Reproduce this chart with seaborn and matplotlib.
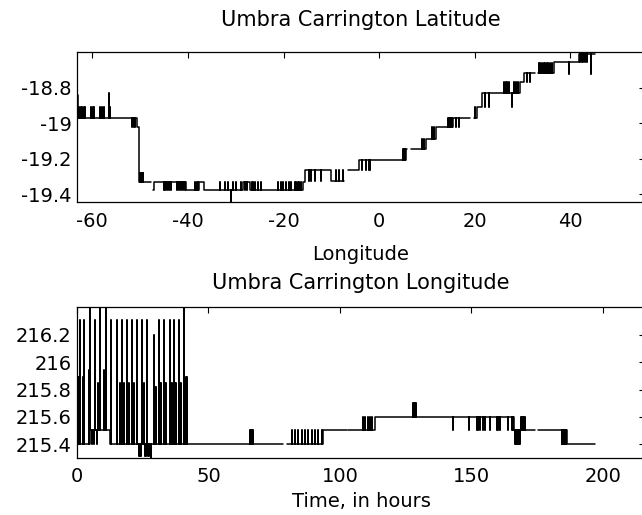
import numpy as np
import pandas as pd
import matplotlib
matplotlib.use("Agg")
import matplotlib.pyplot as plt
import seaborn as sns

# ---------------- Top panel: Umbra Carrington Latitude vs Longitude ----------------
# step breakpoints: value holds from this longitude until the next one (nan = gap)
lat_step_lon = [-63.0, -62.9, -50.6, -50.3, -47.8, -47.2, -47.0, -40.5, -37.6, -36.7,
                -28.5, -27.1, -16.0, -15.5, -10.1, -7.3, -6.6, -4.2, 5.6, 5.9,
                6.6, 9.7, 11.8, 15.5, 19.1, 19.8, 20.5, 21.5, 29.5, 30.2,
                32.5, 33.2, 36.5, 41.7, 45.1]
lat_step_val = [-18.84, -18.97, -19.02, -19.33, np.nan, -19.38, -19.33, -19.38, -19.33, -19.38,
                -19.33, -19.38, -19.33, -19.265, -19.325, np.nan, -19.265, -19.208, -19.148, np.nan,
                -19.148, -19.087, -19.024, -18.968, np.nan, -18.968, -18.908, -18.83, -18.77, -18.717,
                np.nan, -18.717, -18.655, -18.61, -18.61]
# short excursions (spikes) away from the step level: position and tip value
lat_spike_lon = [-62.7, -62.4, -62.1, -61.8, -61.5, -60.3, -59.9, -59.6, -58.3, -58.0,
                 -57.6, -56.5, -56.2, -51.6, -51.3, -51.0, -50.1, -49.9, -49.7, -49.5,
                 -49.3, -45.0, -44.7, -44.3, -43.9, -43.5, -42.2, -41.9, -41.5, -41.1,
                 -40.7, -38.6, -38.2, -37.9, -33.3, -32.3, -31.6, -30.9, -30.6, -29.9,
                 -28.8, -28.0, -27.6, -26.6, -26.3, -26.0, -25.3, -24.7, -21.2, -20.5,
                 -20.1, -19.4, -18.9, -18.4, -17.7, -17.4, -17.0, -16.7, -16.3, -14.6,
                 -14.2, -13.5, -12.2, -9.0, -8.3, -7.6, -3.5, -2.8, -2.1, -1.9,
                 4.9, 5.1, 5.3, 9.0, 9.4, 11.1, 11.5, 14.4, 14.6, 14.8,
                 15.0, 15.2, 16.0, 16.6, 20.1, 22.2, 22.9, 26.2, 26.5, 26.8,
                 27.2, 27.8, 28.3, 28.6, 29.0, 30.9, 31.6, 33.4, 33.7, 34.0,
                 34.4, 34.7, 35.1, 35.4, 35.8, 36.1, 39.6, 42.1, 42.4, 42.7,
                 43.1, 43.5, 44.4]
lat_spike_val = [-18.91, -18.91, -18.91, -18.91, -18.91, -18.91, -18.91, -18.91, -18.91, -18.91,
                 -18.91, -18.83, -18.91, -19.02, -19.02, -19.02, -19.28, -19.28, -19.28, -19.28,
                 -19.28, -19.38, -19.38, -19.38, -19.38, -19.38, -19.38, -19.38, -19.38, -19.38,
                 -19.38, -19.33, -19.33, -19.33, -19.33, -19.33, -19.33, -19.50, -19.33, -19.33,
                 -19.33, -19.38, -19.38, -19.33, -19.33, -19.33, -19.33, -19.33, -19.33, -19.33,
                 -19.33, -19.33, -19.33, -19.33, -19.33, -19.33, -19.33, -19.33, -19.33, -19.325,
                 -19.325, -19.325, -19.325, -19.265, -19.265, -19.265, -19.265, -19.265, -19.265, -19.265,
                 -19.148, -19.148, -19.148, -19.087, -19.087, -19.024, -19.024, -18.968, -18.968, -18.968,
                 -18.968, -18.968, -19.024, -19.024, -18.908, -18.908, -18.908, -18.77, -18.77, -18.77,
                 -18.77, -18.91, -18.77, -18.77, -18.77, -18.77, -18.77, -18.66, -18.66, -18.66,
                 -18.66, -18.66, -18.66, -18.66, -18.66, -18.66, -18.72, -18.655, -18.655, -18.655,
                 -18.655, -18.655, -18.72]

lat_xticks = [-60, -40, -20, 0, 20, 40]
lat_xticklabels = ["-60", "-40", "-20", "0", "20", "40"]
lat_yticks = [-19.4, -19.2, -19.0, -18.8]
lat_yticklabels = ["-19.4", "-19.2", "-19", "-18.8"]

# ---------------- Bottom panel: Umbra Carrington Longitude vs Time ----------------
lon_step_t = [0.0, 4.9, 12.7, 78.4, 79.7, 93.7, 102.5, 103.2, 113.3, 166.3,
              174.1, 175.4, 186.2, 197.0]
lon_step_val = [215.4, 215.5, 215.4, np.nan, 215.4, 215.5, np.nan, 215.5, 215.6, 215.5,
                np.nan, 215.5, 215.4, 215.4]
lon_spike_t = [0.3, 0.6, 0.9, 1.3, 2.3, 2.5, 2.8, 4.4, 4.8, 5.8,
               6.4, 7.0, 7.5, 7.9, 8.1, 8.9, 10.1, 11.2, 12.75, 12.9,
               15.2, 16.2, 16.4, 17.1, 17.7, 17.9, 19.0, 19.6, 19.8, 20.9,
               21.5, 21.7, 22.8, 23.4, 23.6, 23.8, 24.0, 24.2, 24.4, 24.7,
               25.3, 25.5, 26.0, 26.3, 26.6, 26.9, 27.2, 27.5, 28.1, 29.2,
               29.8, 30.0, 31.1, 31.7, 31.9, 33.0, 33.6, 33.8, 35.2, 35.9,
               36.1, 36.8, 37.4, 37.6, 38.7, 39.3, 39.5, 40.8, 41.6, 41.8,
               65.8, 66.1, 66.4, 66.7, 67.0, 81.6, 82.9, 84.2, 85.4, 86.7,
               88.0, 89.2, 90.5, 91.8, 93.0, 108.9, 109.5, 110.8, 111.4, 112.0,
               127.9, 128.2, 128.5, 128.8, 143.1, 149.2, 152.0, 152.6, 153.2, 154.5,
               155.1, 157.0, 159.6, 160.2, 160.8, 164.0, 165.3, 165.9, 166.5, 166.8,
               167.1, 167.4, 167.7, 168.0, 168.3, 168.7, 169.1, 169.5, 169.9, 170.3,
               184.3, 184.6, 184.9, 185.2, 185.5, 185.8, 197.0]
lon_spike_val = [215.89, 215.89, 215.89, 216.31, 215.89, 215.89, 216.31, 215.94, 216.6, 215.4,
                 215.4, 216.31, 215.4, 215.85, 215.85, 216.6, 215.94, 216.6, 215.85, 216.31,
                 216.31, 215.85, 215.85, 216.31, 215.85, 215.85, 216.31, 215.85, 215.85, 216.31,
                 215.85, 215.85, 216.31, 215.31, 215.31, 215.31, 215.31, 215.31, 215.31, 216.31,
                 215.85, 215.85, 215.31, 215.31, 216.31, 215.31, 215.31, 215.31, 215.2, 216.2,
                 215.82, 215.82, 216.31, 215.85, 215.85, 216.31, 215.85, 215.85, 216.31, 215.85,
                 215.85, 216.31, 215.85, 215.85, 216.31, 215.85, 215.85, 216.6, 215.89, 215.89,
                 215.5, 215.5, 215.5, 215.5, 215.5, 215.5, 215.5, 215.5, 215.5, 215.5,
                 215.5, 215.5, 215.5, 215.5, 215.5, 215.6, 215.6, 215.6, 215.6, 215.6,
                 215.7, 215.7, 215.7, 215.7, 215.5, 215.5, 215.5, 215.5, 215.5, 215.5,
                 215.5, 215.5, 215.5, 215.5, 215.5, 215.5, 215.5, 215.5, 215.4, 215.4,
                 215.4, 215.4, 215.4, 215.4, 215.4, 215.6, 215.6, 215.6, 215.6, 215.6,
                 215.4, 215.4, 215.4, 215.4, 215.4, 215.4, 215.25]

lon_xticks = [0, 50, 100, 150, 200]
lon_xticklabels = ["0", "50", "100", "150", "200"]
lon_yticks = [215.4, 215.6, 215.8, 216.0, 216.2]
lon_yticklabels = ["215.4", "215.6", "215.8", "216", "216.2"]


def build_path(step_x, step_y, spike_x, spike_y):
    spikes = sorted(zip(spike_x, spike_y))
    rows = []
    seg = 0
    for i in range(len(step_x) - 1):
        x0, x1, y0 = step_x[i], step_x[i + 1], step_y[i]
        if np.isnan(y0):
            seg += 1
            continue
        rows.append((x0, y0, seg))
        for sx, sy in spikes:
            if x0 <= sx < x1:
                rows += [(sx, y0, seg), (sx, sy, seg), (sx, y0, seg)]
        rows.append((x1, y0, seg))
    return pd.DataFrame(rows, columns=["x", "y", "seg"])


sns.set_style("white")
plt.rcParams["font.family"] = ["DejaVu Sans"]
plt.rcParams["font.size"] = 14
plt.rcParams["text.color"] = "black"
plt.rcParams["axes.labelcolor"] = "black"
plt.rcParams["xtick.color"] = "black"
plt.rcParams["ytick.color"] = "black"

W, H = 642, 515
fig = plt.figure(figsize=(W / 100, H / 100), dpi=100)
ax1 = fig.add_axes([77 / W, 1 - 202 / H, (645 - 77) / W, 150 / H])
ax2 = fig.add_axes([77 / W, 1 - 457.7 / H, (645 - 77) / W, 150.7 / H])

df_lat = build_path(lat_step_lon, lat_step_val, lat_spike_lon, lat_spike_val)
df_lon = build_path(lon_step_t, lon_step_val, lon_spike_t, lon_spike_val)

sns.lineplot(data=df_lat, x="x", y="y", units="seg", estimator=None, sort=False,
             color="black", lw=1.1, ax=ax1, legend=False)
sns.lineplot(data=df_lon, x="x", y="y", units="seg", estimator=None, sort=False,
             color="black", lw=1.1, ax=ax2, legend=False)

ax1.set_xlim(-63.2, 55.6)
ax1.set_ylim(-19.445, -18.598)
ax1.set_xticks(lat_xticks, lat_xticklabels)
ax1.set_yticks(lat_yticks, lat_yticklabels)
ax1.set_title("Umbra Carrington Latitude", fontsize=15, pad=19, color="black")
ax1.set_xlabel("Longitude", fontsize=14, labelpad=10)
ax1.set_ylabel("")

ax2.set_xlim(0, 216.0)
ax2.set_ylim(215.30, 216.405)
ax2.set_xticks(lon_xticks, lon_xticklabels)
ax2.set_yticks(lon_yticks, lon_yticklabels)
ax2.set_title("Umbra Carrington Longitude", fontsize=15, pad=13, color="black")
ax2.set_xlabel("Time, in hours", fontsize=14, labelpad=4)
ax2.set_ylabel("")

for ax in (ax1, ax2):
    for s in ax.spines.values():
        s.set_color("black")
        s.set_linewidth(0.9)
    ax.tick_params(direction="in", length=4, width=0.8, top=True, right=True,
                   labelsize=14, colors="black")
    ax.tick_params(axis="x", pad=7)
    ax.tick_params(axis="y", pad=4)

fig.savefig("out.png", dpi=100, facecolor="white")
